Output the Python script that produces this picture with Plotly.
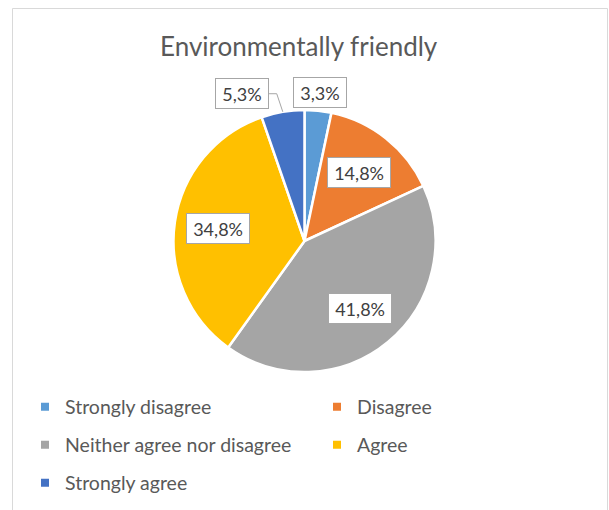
import math
import plotly.graph_objects as go

# Survey responses, share of respondents (%)
categories = ["Strongly disagree", "Disagree", "Neither agree nor disagree", "Agree", "Strongly agree"]
shares = [3.3, 14.8, 41.8, 34.8, 5.3]
colors = ["#5B9BD5", "#ED7D31", "#A5A5A5", "#FFC000", "#4472C4"]
title_text = "Environmentally friendly"

W, H = 609, 510
CX, CY, R = 304.5, 241.0, 131.0   # pie centre and radius, px


def fx(px):
    return px / W


def fy(py):
    return 1 - py / H


def label_width(text):
    # rough text width for Lato 18px
    w = 0.0
    for ch in text:
        if ch.isdigit():
            w += 10.4
        elif ch == ",":
            w += 4.5
        elif ch == "%":
            w += 14.5
    return w + 6


fig = go.Figure()

fig.add_trace(go.Pie(
    labels=categories,
    values=shares,
    sort=False,
    direction="clockwise",
    rotation=0,
    marker=dict(colors=colors, line=dict(color="white", width=2.5)),
    textinfo="none",
    hoverinfo="label+percent",
    showlegend=False,
    domain=dict(x=[fx(CX - R), fx(CX + R)], y=[fy(CY + R), fy(CY - R)]),
))

# Legend swatches: one legend box per entry, two columns x three rows
legend_ids = ["legend", "legend2", "legend3", "legend4", "legend5"]
for name, col, lg in zip(categories, colors, legend_ids):
    fig.add_trace(go.Scatter(
        x=[None], y=[None], mode="markers", name=name, legend=lg,
        marker=dict(symbol="square", size=8, color=col),
        xaxis="x", yaxis="y", hoverinfo="skip",
    ))

# Data labels in boxes, placed along each slice's mid-angle
BOX_H = 31
annotations = []
shapes = []
placed_outside = []
cum = 0.0
total = sum(shares)
for val, col in zip(shares, colors):
    mid = math.radians((cum + val / 2) / total * 360)
    cum += val
    outside = val < 6
    d = 1.14 * R if outside else 0.67 * R
    ax = CX + d * math.sin(mid)
    ay = CY - d * math.cos(mid)
    label = f"{val:.1f}%".replace(".", ",")
    tw = label_width(label)
    bw = tw + 8
    lx = ax
    leader = None
    if outside:
        for (ox, oy, ow) in placed_outside:
            if abs(lx - ox) < (bw + ow) / 2 + 4 and abs(ay - oy) < BOX_H:
                right = ox - ow / 2 - 24
                lx = right - bw / 2
                ex = CX + R * math.sin(mid)
                ey = CY - R * math.cos(mid)
                leader = (right, ay, ax - 3, ay, ex, ey)
        placed_outside.append((lx, ay, bw))
    annotations.append(dict(
        x=fx(lx), y=fy(ay), xref="paper", yref="paper",
        text=label, showarrow=False,
        font=dict(family="Lato", size=18, color="#404040"),
        bgcolor="white", bordercolor="#A6A6A6", borderwidth=1, borderpad=3,
        width=tw, height=BOX_H - 8,
        xanchor="center", yanchor="middle",
    ))
    if leader:
        x0, y0, x1, y1, x2, y2 = leader
        shapes.append(dict(
            type="path", xref="paper", yref="paper",
            path=f"M{fx(x0)},{fy(y0)} L{fx(x1)},{fy(y1)} L{fx(x2)},{fy(y2)}",
            line=dict(color="#A6A6A6", width=1),
        ))

# Chart border
shapes.append(dict(
    type="rect", xref="paper", yref="paper",
    x0=fx(12.5), x1=fx(607.5), y0=-0.1, y1=fy(8.5),
    line=dict(color="#D9D9D9", width=1), fillcolor="rgba(0,0,0,0)", layer="below",
))

annotations.append(dict(
    x=fx(298.5), y=fy(46), xref="paper", yref="paper",
    text=title_text, showarrow=False,
    font=dict(family="Lato", size=26, color="#595959"),
    xanchor="center", yanchor="middle",
))

legend_common = dict(
    orientation="h",
    font=dict(family="Lato", size=19.5, color="#595959"),
    xanchor="left", yanchor="middle", bgcolor="rgba(0,0,0,0)",
    itemclick=False, itemdoubleclick=False,
)

col_x = [25, 317]
row_y = [407, 445, 483]
legend_layout = {}
for i, lg in enumerate(legend_ids):
    legend_layout[lg] = dict(x=fx(col_x[i % 2]), y=fy(row_y[i // 2]), **legend_common)

fig.update_layout(
    width=W, height=H,
    margin=dict(l=0, r=0, t=0, b=0),
    paper_bgcolor="white", plot_bgcolor="white",
    xaxis=dict(visible=False, domain=[0, 0.001]),
    yaxis=dict(visible=False, domain=[0, 0.001]),
    annotations=annotations,
    shapes=shapes,
    **legend_layout,
)

fig.write_html("out.html")
